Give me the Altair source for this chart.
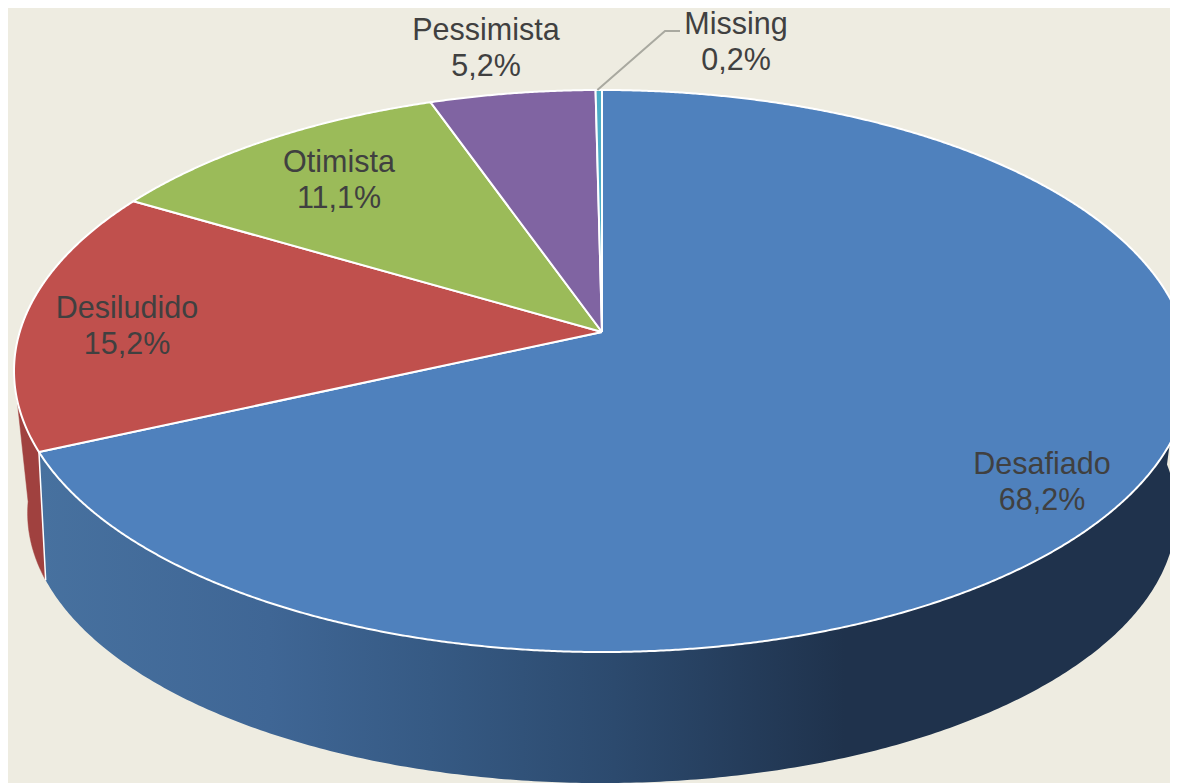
import math
import altair as alt
import pandas as pd

# ---- chart values -------------------------------------------------
categories = ["Desafiado", "Desiludido", "Otimista", "Pessimista", "Missing"]
shares = [68.2, 15.2, 11.1, 5.2, 0.2]

# ---- styles and layout --------------------------------------------
top_colors = ["#4f81bd", "#c0504d", "#9bbb59", "#8064a2", "#4bacc6"]
red_wall = "#a0413f"
BG = "#eeece1"
TEXT = "#404040"
W, H = 1162, 775
label_x = [1042, 127, 339, 486, 736]
label_y = [465, 309, 163, 31, 25]

# perspective disc: (unit circle) -> page pixels
TOP = dict(cx=602, y0=332, c=582.3, p=275.6, b=0.1388)
LOW = dict(cx=602, y0=464.4, c=565, p=261.3, b=0.18)


def rim(deg, g):
    t = math.radians(deg)
    X, Y = math.sin(t), math.cos(t)
    d = 1 + g["b"] * Y
    return g["cx"] + g["c"] * X / d, g["y0"] - g["p"] * Y / d


def arc(a, b, g, step=0.5):
    n = max(2, int(abs(b - a) / step) + 1)
    return [rim(a + (b - a) * i / (n - 1), g) for i in range(n)]


total = sum(shares)
edges = [0.0]
for s in shares:
    edges.append(edges[-1] + s / total * 360)


def polygon(points):
    closed = list(points) + [points[0]]
    return pd.DataFrame(
        {"x": [p[0] for p in closed], "y": [p[1] for p in closed], "i": range(len(closed))}
    )


pos = dict(
    x=alt.X("x:Q", scale=alt.Scale(domain=[8, 8 + W], nice=False, zero=False), axis=None),
    y=alt.Y("y:Q", scale=alt.Scale(domain=[8 + H, 8], nice=False, zero=False), axis=None),
    order=alt.Order("i:Q"),
)


def shape(points, **mark):
    return alt.Chart(polygon(points)).mark_line(clip=True, interpolate="linear", **mark).encode(**pos)


blue_end = edges[1]
gradient = alt.Gradient(
    gradient="linear",
    x1=0, x2=1, y1=0, y2=0,
    stops=[
        alt.GradientStop(offset=0.0, color="#47719f"),
        alt.GradientStop(offset=0.2, color="#3f6695"),
        alt.GradientStop(offset=0.34, color="#365a84"),
        alt.GradientStop(offset=0.5, color="#2c4a6e"),
        alt.GradientStop(offset=0.7, color="#1f324c"),
        alt.GradientStop(offset=1.0, color="#1f324c"),
    ],
)

layers = []
# side walls
layers.append(
    shape(arc(blue_end, 262, TOP) + arc(262, blue_end, LOW), fill=red_wall, stroke=red_wall, strokeWidth=0.5)
)
layers.append(
    shape(arc(blue_end, 90, TOP) + arc(90, blue_end, LOW), fill=gradient, strokeWidth=0)
)
layers.append(
    shape([rim(blue_end, TOP), rim(blue_end, LOW)], stroke="white", strokeWidth=1.5)
)
# top faces
apex = (TOP["cx"], TOP["y0"])
for k in range(len(categories)):
    layers.append(
        shape(
            [apex] + arc(edges[k], edges[k + 1], TOP, step=0.25),
            fill=top_colors[k],
            stroke="white",
            strokeWidth=2,
            strokeJoin="round",
        )
    )

# leader line of the smallest slice
a = rim(edges[4] + 0.2, TOP)
layers.append(
    alt.Chart(
        pd.DataFrame({"x": [a[0], 665, 680], "y": [a[1], 31, 31], "i": [0, 1, 2]})
    ).mark_line(stroke="#a9a9a0", strokeWidth=2).encode(**pos)
)

# labels
labels = pd.DataFrame(
    {
        "x": label_x,
        "y": label_y,
        "t": [f"{c}\n{s:.1f}%".replace(".", ",") for c, s in zip(categories, shares)],
    }
)
layers.append(
    alt.Chart(labels)
    .mark_text(
        font="Liberation Sans",
        fontSize=30.5,
        color=TEXT,
        align="center",
        baseline="middle",
        lineBreak="\n",
        lineHeight=36,
    )
    .encode(x=pos["x"], y=pos["y"], text="t:N")
)

chart = (
    alt.layer(*layers)
    .properties(width=W, height=H, background=BG, padding=0, autosize=alt.AutoSizeParams(type="none"))
    .configure_view(stroke=None)
)
chart.save("out.html", embed_options={"renderer": "svg", "actions": False})
